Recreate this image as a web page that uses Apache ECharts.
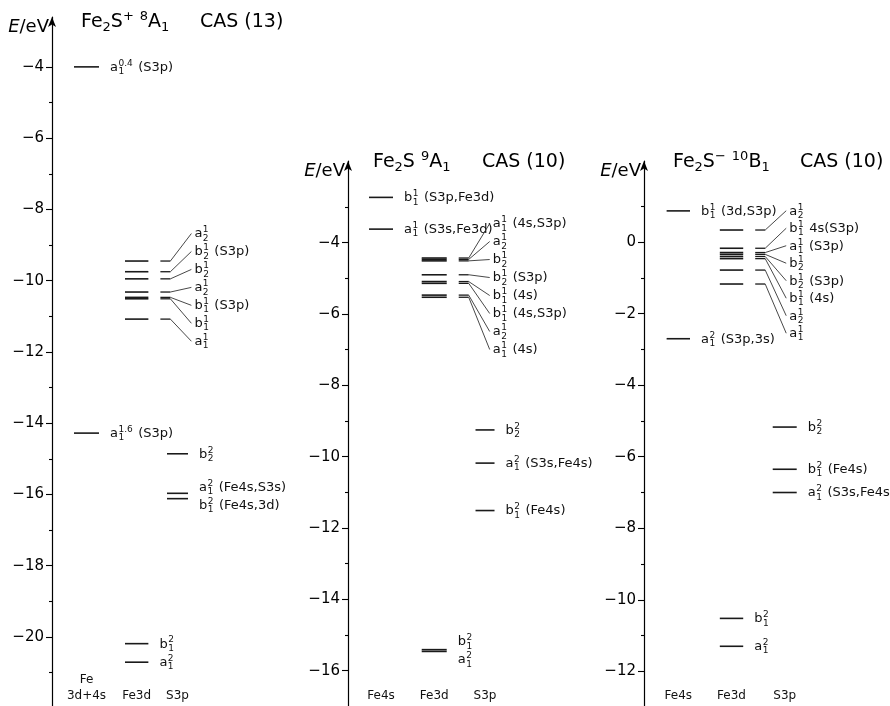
<!DOCTYPE html>
<html><head><meta charset="utf-8">
<script src="https://cdn.jsdelivr.net/npm/echarts@6/dist/echarts.min.js"></script>
<style>html,body{margin:0;padding:0;background:#fff}#c{width:890px;height:706px}</style>
</head><body><div id="c"></div>
<script>
// ================= DATA =================
// column names of each diagram
const cols1 = ['Fe\n3d+4s', 'Fe3d', 'S3p'];
const cols2 = ['Fe4s', 'Fe3d', 'S3p'];
const cols3 = ['Fe4s', 'Fe3d', 'S3p'];
// energy-axis ticks (eV)
const ticks1 = [-20, -18, -16, -14, -12, -10, -8, -6, -4];
const minor1 = [-21, -19, -17, -15, -13, -11, -9, -7, -5];
const ticks2 = [-16, -14, -12, -10, -8, -6, -4];
const minor2 = [-15, -13, -11, -9, -7, -5, -3];
const ticks3 = [-12, -10, -8, -6, -4, -2, 0];
const minor3 = [-11, -9, -7, -5, -3, -1, 1];
// single levels: [column, energy eV, orbital, subscript, occupation, note]
const singles1 = [
  [0, -4.00, 'a', '1', '0.4', '(S3p)'],
  [0, -14.28, 'a', '1', '1.6', '(S3p)'],
  [2, -14.86, 'b', '2', '2', ''],
  [2, -15.97, 'a', '1', '2', '(Fe4s,S3s)'],
  [2, -16.12, 'b', '1', '2', '(Fe4s,3d)'],
  [1, -20.19, 'b', '1', '2', ''],
  [1, -20.71, 'a', '1', '2', '']
];
const singles2 = [
  [0, -2.73, 'b', '1', '1', '(S3p,Fe3d)'],
  [0, -3.62, 'a', '1', '1', '(S3s,Fe3d)'],
  [2, -9.25, 'b', '2', '2', ''],
  [2, -10.18, 'a', '1', '2', '(S3s,Fe4s)'],
  [2, -11.51, 'b', '1', '2', '(Fe4s)'],
  [1, -15.41, 'b', '1', '2', ''],
  [1, -15.46, 'a', '1', '2', '']
];
const singles3 = [
  [0, 0.875, 'b', '1', '1', '(3d,S3p)'],
  [0, -2.70, 'a', '1', '2', '(S3p,3s)'],
  [2, -5.17, 'b', '2', '2', ''],
  [2, -6.35, 'b', '1', '2', '(Fe4s)'],
  [2, -7.00, 'a', '1', '2', '(S3s,Fe4s)'],
  [1, -10.52, 'b', '1', '2', ''],
  [1, -11.30, 'a', '1', '2', '']
];
// Fe3d manifolds, labelled through connectors (top to bottom): [energy eV, orbital, subscript, occupation, note]
const fan1 = [
  [-9.45, 'a', '2', '1', ''],
  [-9.75, 'b', '2', '1', '(S3p)'],
  [-9.95, 'b', '2', '1', ''],
  [-10.32, 'a', '2', '1', ''],
  [-10.47, 'b', '1', '1', '(S3p)'],
  [-10.51, 'b', '1', '1', ''],
  [-11.08, 'a', '1', '1', '']
];
const fan2 = [
  [-4.43, 'a', '1', '1', '(4s,S3p)'],
  [-4.47, 'a', '2', '1', ''],
  [-4.51, 'b', '2', '1', ''],
  [-4.90, 'b', '2', '1', '(S3p)'],
  [-5.09, 'b', '1', '1', '(4s)'],
  [-5.14, 'b', '1', '1', '(4s,S3p)'],
  [-5.47, 'a', '2', '1', ''],
  [-5.53, 'a', '1', '1', '(4s)']
];
const fan3 = [
  [0.34, 'a', '2', '1', ''],
  [-0.17, 'b', '1', '1', '4s(S3p)'],
  [-0.29, 'a', '1', '1', '(S3p)'],
  [-0.34, 'b', '2', '1', ''],
  [-0.40, 'b', '2', '1', '(S3p)'],
  [-0.46, 'b', '1', '1', '(4s)'],
  [-0.78, 'a', '2', '1', ''],
  [-1.17, 'a', '1', '1', '']
];
const titles1 = ['{n|Fe}{b|2}{n|S}{p|+}{n| }{p|8}{n|A}{b|1}', 'CAS (13)'];
const titles2 = ['{n|Fe}{b|2}{n|S }{p|9}{n|A}{b|1}', 'CAS (10)'];
const titles3 = ['{n|Fe}{b|2}{n|S}{p|\u2212}{n| }{p|10}{n|B}{b|1}', 'CAS (10)'];

// ================= LAYOUT / STYLE =================
const FONT = 'DejaVu Sans';
const INK = '#111';
const LW = 1.6;
const MIN_SEP = 18;
const panels = [
  {cols: cols1, ticks: ticks1, minor: minor1, singles: singles1, fan: fan1, titles: titles1,
   left: 52, top: 17, unit: 45.5, xmin: -0.758, xmax: 3, colX: [0, 1.103, 2], halfW: [12.5, 11.7, 10.5],
   ymin: -21.94, ymax: -2.60, fanStart: -27.5, fanStep: 17.95, titleX: [81, 200], titleTop: 10},
  {cols: cols2, ticks: ticks2, minor: minor2, singles: singles2, fan: fan2, titles: titles2,
   left: 348, top: 161, unit: 52, xmin: -0.635, xmax: 3, colX: [0, 1.023, 2], halfW: [12, 12.5, 9.5],
   ymin: -16.99, ymax: -1.71, fanStart: -34.5, fanStep: 18, titleX: [373, 482], titleTop: 150},
  {cols: cols3, ticks: ticks3, minor: minor3, singles: singles3, fan: fan3, titles: titles3,
   left: 644, top: 161, unit: 53.2, xmin: -0.645, xmax: 3, colX: [0, 1.0, 2], halfW: [11.7, 11.7, 12],
   ymin: -12.97, ymax: 2.27, fanStart: -19.3, fanStep: 17.5, titleX: [673, 800], titleTop: 150}
];

const mctx = document.createElement('canvas').getContext('2d');
function tw(s, size) { mctx.font = size + 'px "' + FONT + '"'; return mctx.measureText(s).width; }

function seg(x1, y1, x2, y2, w, c) {
  return {type: 'line', shape: {x1, y1, x2, y2}, style: {stroke: c || '#1a1a1a', lineWidth: w || LW}};
}
function txt(x, y, s, size) {
  return {type: 'text', x, y, style: {text: s, fontSize: size, fontFamily: FONT, fill: INK, align: 'left', verticalAlign: 'middle'}};
}
function orbitalLabel(out, x, y, sym, sub, sup, note) {
  out.push(txt(x, y + 0.5, sym, 13));
  const bw = tw(sym, 13);
  out.push(txt(x + bw + 0.5, y - 3.5, sup, 9));
  out.push(txt(x + bw + 0.5, y + 4.8, sub, 9));
  if (note) {
    const sw = Math.max(tw(sup, 9), tw(sub, 9));
    const nx = x + Math.max(19, bw + sw + 6);
    out.push(txt(nx, y + 0.5, note, 13));
  }
}
function singleLabelY(P, api, idx) {
  const col = P.singles[idx][0];
  const items = P.singles.map((L, i) => ({i, col: L[0], y: api.coord([P.colX[L[0]], L[1]])[1]}))
    .filter(o => o.col === col).sort((a, b) => a.y - b.y);
  const clusters = [];
  items.forEach(o => {
    const last = clusters[clusters.length - 1];
    if (last && o.y - last[last.length - 1].y < MIN_SEP) last.push(o); else clusters.push([o]);
  });
  for (const cl of clusters) {
    const m = cl.reduce((s, o) => s + o.y, 0) / cl.length;
    for (let k = 0; k < cl.length; k++) {
      if (cl[k].i === idx) return cl.length > 1 ? m + (k - (cl.length - 1) / 2) * MIN_SEP : cl[k].y;
    }
  }
  return 0;
}
function makeRender(P) {
  return function (params, api) {
    const kind = api.value(2), idx = api.value(3);
    const ch = [];
    if (kind === 0) {
      const L = P.singles[idx];
      const c = api.coord([P.colX[L[0]], L[1]]);
      const hw = P.halfW[L[0]];
      ch.push(seg(c[0] - hw, c[1], c[0] + hw, c[1]));
      orbitalLabel(ch, c[0] + hw + 11, singleLabelY(P, api, idx), L[2], L[3], L[4], L[5]);
    } else {
      const F = P.fan[idx];
      const c = api.coord([P.colX[1], F[0]]);
      const hw = P.halfW[1];
      const xr = c[0] + hw;
      ch.push(seg(c[0] - hw, c[1], xr, c[1]));
      ch.push(seg(xr + 12, c[1], xr + 22, c[1], 1.3));
      const top = api.coord([P.colX[1], P.fan[0][0]])[1];
      const ly = top + P.fanStart + idx * P.fanStep;
      ch.push(seg(xr + 22, c[1], xr + 43, ly, 0.9, '#333'));
      orbitalLabel(ch, xr + 46, ly, F[1], F[2], F[3], F[4]);
    }
    return {type: 'group', children: ch};
  };
}

const titleRich = {
  n: {fontSize: 19, lineHeight: 24, fontFamily: FONT, fontWeight: 'normal', color: '#000'},
  b: {fontSize: 13, lineHeight: 15, verticalAlign: 'bottom', fontFamily: FONT, fontWeight: 'normal', color: '#000'},
  p: {fontSize: 13, lineHeight: 14, verticalAlign: 'top', fontFamily: FONT, fontWeight: 'normal', color: '#000'}
};
const titles = [];
panels.forEach(P => {
  titles.push({text: P.titles[0], left: P.titleX[0], top: P.titleTop, padding: 0, textStyle: {fontWeight: 'normal', rich: titleRich}});
  titles.push({text: '{n|' + P.titles[1] + '}', left: P.titleX[1], top: P.titleTop, padding: 0, textStyle: {fontWeight: 'normal', rich: titleRich}});
});

const minus = v => (v < 0 ? '\u2212' + Math.abs(v) : String(v));
const yAxes = [];
panels.forEach((P, k) => {
  yAxes.push({
    type: 'value', gridIndex: k, min: P.ymin, max: P.ymax, position: 'left',
    axisLine: {show: true, onZero: false, symbol: ['none', 'arrow'], symbolSize: [6, 10], lineStyle: {color: '#000', width: 1.2}},
    axisTick: {show: true, customValues: P.ticks, length: 6, lineStyle: {color: '#000', width: 1.1}},
    axisLabel: {customValues: P.ticks, formatter: minus, margin: 8, fontSize: 15, color: '#000', fontFamily: FONT},
    splitLine: {show: false},
    name: '{i|E}{n|/eV}', nameLocation: 'end', nameGap: -10,
    nameTextStyle: {align: 'right', verticalAlign: 'middle', padding: [0, 3, 0, 0],
      rich: {i: {fontStyle: 'italic', fontSize: 18, fontFamily: FONT, color: '#000'},
             n: {fontSize: 18, fontFamily: FONT, color: '#000'}}}
  });
  yAxes.push({
    type: 'value', gridIndex: k, min: P.ymin, max: P.ymax, position: 'left',
    axisLine: {show: false, onZero: false},
    axisTick: {show: true, customValues: P.minor, length: 3, lineStyle: {color: '#000', width: 1.1}},
    axisLabel: {show: false}, splitLine: {show: false}
  });
});

const option = {
  animation: false,
  backgroundColor: '#fff',
  title: titles,
  grid: panels.map(P => ({left: P.left, top: P.top, width: (P.xmax - P.xmin) * P.unit, bottom: 0})),
  xAxis: panels.map((P, k) => ({
    type: 'value', gridIndex: k, min: P.xmin, max: P.xmax,
    axisLine: {show: false, onZero: false}, axisTick: {show: false}, splitLine: {show: false},
    axisLabel: {customValues: P.colX, inside: true, margin: 2, fontSize: 12, lineHeight: 16, color: INK, fontFamily: FONT,
      formatter: v => { let b = 0; P.colX.forEach((c, i) => { if (Math.abs(c - v) < Math.abs(P.colX[b] - v)) b = i; }); return P.cols[b]; }}
  })),
  yAxis: yAxes,
  series: panels.map((P, k) => ({
    type: 'custom', coordinateSystem: 'cartesian2d', xAxisIndex: k, yAxisIndex: 2 * k,
    clip: false, silent: true, encode: {x: 0, y: 1},
    renderItem: makeRender(P),
    data: P.singles.map((L, i) => [P.colX[L[0]], L[1], 0, i]).concat(P.fan.map((F, i) => [P.colX[1], F[0], 1, i]))
  }))
};
const chart = echarts.init(document.getElementById('c'), null, {renderer: 'canvas'});
chart.setOption(option);
</script></body></html>
